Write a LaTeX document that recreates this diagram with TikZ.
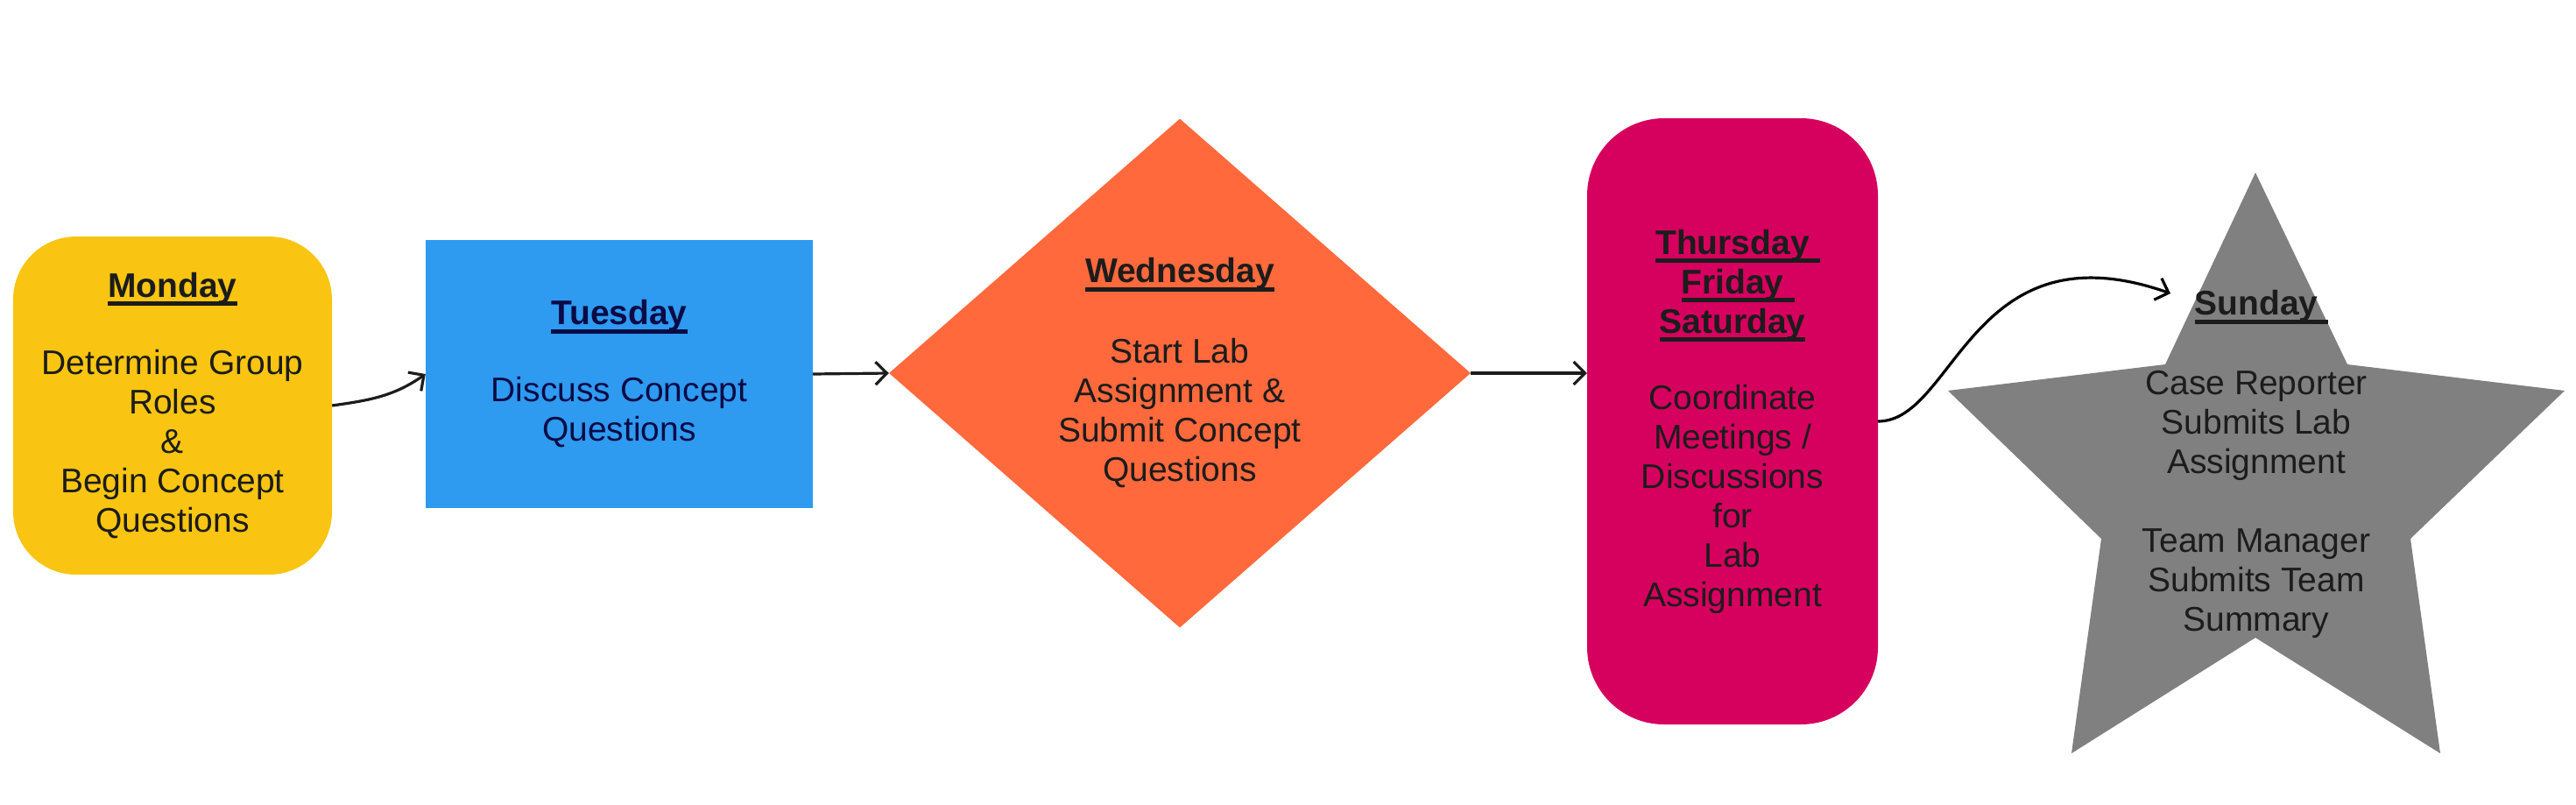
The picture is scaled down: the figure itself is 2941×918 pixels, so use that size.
\documentclass[tikz,border=0pt]{standalone}
\usepackage{fontspec}
\setmainfont{Liberation Sans}
\usetikzlibrary{shapes.geometric,arrows.meta}

\definecolor{monyellow}{HTML}{F9C512}
\definecolor{tueblue}{HTML}{2E9AF0}
\definecolor{wedorange}{HTML}{FF693C}
\definecolor{thupink}{HTML}{D6005E}
\definecolor{sungray}{HTML}{808080}
\definecolor{tuenavy}{HTML}{0B0B45}
\definecolor{darktext}{HTML}{1C1C1C}

% bold day title with a thick underline (optionally longer than the word)
\newcommand{\dayhead}[2][0pt]{%
  \setbox0\hbox{\bfseries #2}%
  \rlap{\vrule width \dimexpr\wd0+#1\relax height -5pt depth 10pt}\box0}

\tikzset{
  daybox/.style={align=center, inner sep=0pt, text=darktext,
    font=\fontsize{39}{45}\selectfont},
  dayarrow/.style={line width=3.2pt, draw=darktext,
    -{Straight Barb[length=13pt,width=26pt]}}
}

\begin{document}
\begin{tikzpicture}[x=1pt, y=-1pt]
        \useasboundingbox (0,0) rectangle (2941,918);

        % Monday to Wednesday
        \node[daybox, fill=monyellow, rounded corners=72pt,
              minimum width=364pt, minimum height=386pt] (mon) at (197,463)
            {\dayhead{Monday}\\[43pt]Determine Group\\Roles\\\&\\Begin Concept\\Questions};
        \node[daybox, fill=tueblue, text=tuenavy,
              minimum width=442pt, minimum height=306pt] (tue) at (707,427)
            {\dayhead{Tuesday}\\[43pt]Discuss Concept\\Questions};
        \node[daybox, diamond, fill=wedorange,
              minimum width=664pt, minimum height=581pt] (wed) at (1347,426)
            {\dayhead{Wednesday}\\[47pt]Start Lab\\Assignment \&\\Submit Concept\\Questions};

        % Thursday to Saturday
        \node[daybox, fill=thupink, rounded corners=88pt,
              minimum width=332pt, minimum height=692pt] (thu) at (1978,481)
            {\dayhead[12pt]{Thursday}\\\dayhead[12pt]{Friday}\\\dayhead{Saturday}\\[42pt]%
             Coordinate\\Meetings /\\Discussions\\for\\Lab\\Assignment};

        % Sunday star and its text
        \fill[sungray] (2575,197) -- (2680,416) -- (2928,446) -- (2752,615)
            -- (2786,860) -- (2575,728) -- (2365,860) -- (2399,615)
            -- (2224,446) -- (2472,416) -- cycle;
        \node[daybox] (sun) at (2576,530)
            {\dayhead[12pt]{Sunday}\\[46pt]Case Reporter\\Submits Lab\\Assignment\\[45pt]%
             Team Manager\\Submits Team\\Summary};

        % Connectors
        \coordinate (sunin) at (2478,335);
        \draw[dayarrow] (mon.east) to[out=8, in=215] (tue.west);
        \draw[dayarrow] (tue.east) -- (wed.west);
        \draw[dayarrow] (wed.east) -- (wed.east -| thu.west);
        \draw[dayarrow, draw=black] (thu.east) .. controls +(88,0) and +(-228,-80) .. (sunin);
\end{tikzpicture}
\end{document}
